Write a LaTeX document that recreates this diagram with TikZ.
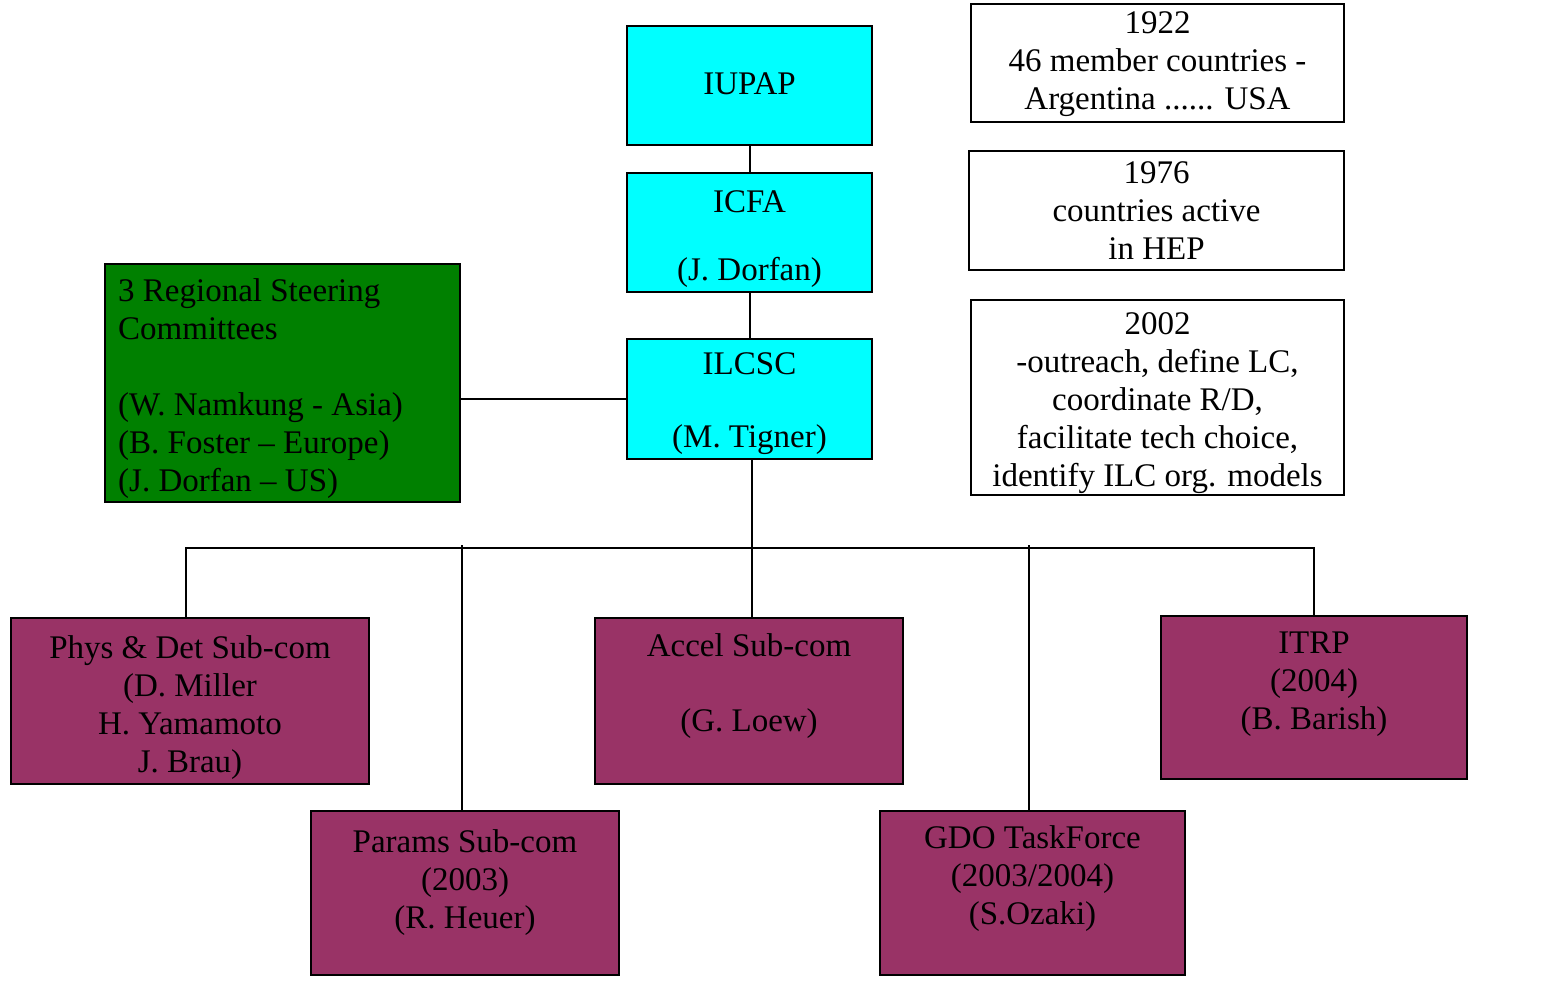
\documentclass[tikz,border=0pt]{standalone}
\usepackage{fontspec}
\setmainfont{Liberation Serif}
\definecolor{boxcyan}{RGB}{0,255,255}
\definecolor{boxgreen}{RGB}{0,128,0}
\definecolor{boxplum}{RGB}{153,51,102}
\begin{document}
\begin{tikzpicture}[x=1pt,y=-1pt,
  box/.style={draw=black, line width=2pt, rectangle, inner sep=0pt},
  txt/.style={inner sep=0pt, align=center, font=\fontsize{33}{38}\selectfont},
  link/.style={draw=black, line width=2pt}]
\useasboundingbox (0,0) rectangle (1551,984);
% top chain
\node[box, fill=boxcyan, minimum width=245, minimum height=119] (iupap) at (749.5,85.5) {};
\node[txt] (iupapt) at (749.5,84) {IUPAP};
\node[box, fill=boxcyan, minimum width=245, minimum height=119] (icfa) at (749.5,232.5) {};
\node[txt] (icfat) at (749.5,239) {ICFA\\[30pt](J. Dorfan)};
\node[box, fill=boxcyan, minimum width=245, minimum height=120] (ilcsc) at (749.5,399) {};
\node[txt] (ilcsct) at (749.5,404) {ILCSC\\[35pt](M. Tigner)};
% regional steering
\node[box, fill=boxgreen, minimum width=355, minimum height=238] (rsc) at (282.5,383) {};
\node[txt, align=left, anchor=west] (rsct) at (118,389)
  {3 Regional Steering\\Committees\\[38pt](W. Namkung - Asia)\\(B. Foster – Europe)\\(J. Dorfan – US)};
% info boxes
\node[box, fill=white, minimum width=373, minimum height=118] (y1922) at (1157.5,63) {};
\node[txt] (y1922t) at (1157.5,64) {1922\\46 member countries -\\Argentina ...... USA};
\node[box, fill=white, minimum width=375, minimum height=119] (y1976) at (1156.5,210.5) {};
\node[txt] (y1976t) at (1156.5,211) {1976\\countries active\\in HEP};
\node[box, fill=white, minimum width=373, minimum height=195] (y2002) at (1157.5,397.5) {};
\node[txt] (y2002t) at (1157.5,403) {2002\\-outreach, define LC,\\coordinate R/D,\\facilitate tech choice,\\identify ILC org. models};
% sub-committees
\node[box, fill=boxplum, minimum width=358, minimum height=166] (phys) at (190,701) {};
\node[txt] (physt) at (190,708) {Phys \& Det Sub-com\\(D. Miller\\H. Yamamoto\\J. Brau)};
\node[box, fill=boxplum, minimum width=308, minimum height=166] (accel) at (749,701) {};
\node[txt] (accelt) at (749,686) {Accel Sub-com\\[37pt](G. Loew)};
\node[box, fill=boxplum, minimum width=306, minimum height=163] (itrp) at (1314,697.5) {};
\node[txt] (itrpt) at (1314,684) {ITRP\\(2004)\\(B. Barish)};
\node[box, fill=boxplum, minimum width=308, minimum height=164] (params) at (465,893) {};
\node[txt] (paramst) at (465,883) {Params Sub-com\\(2003)\\(R. Heuer)};
\node[box, fill=boxplum, minimum width=305, minimum height=164] (gdo) at (1032.5,893) {};
\node[txt] (gdot) at (1032.5,879) {GDO TaskForce\\(2003/2004)\\(S.Ozaki)};
% connectors
\coordinate (bus) at (752,548);
\draw[link] (iupap.south) -- (icfa.north);
\draw[link] (icfa.south) -- (ilcsc.north);
\draw[link] (ilcsc.west) -- (ilcsc.west -| rsc.east);
\draw[link] ([xshift=2.5pt]ilcsc.south) -- ([xshift=3pt]accel.north);
\draw[link] ([xshift=-4pt]phys.north) -- ([xshift=-4pt]phys.north |- bus) -| (itrp.north);
\draw[link] ([xshift=-3pt]params.north) -- ([xshift=-3pt,yshift=3pt]params.north |- bus);
\draw[link] ([xshift=-3.5pt]gdo.north) -- ([xshift=-3.5pt,yshift=3pt]gdo.north |- bus);
\end{tikzpicture}
\end{document}
